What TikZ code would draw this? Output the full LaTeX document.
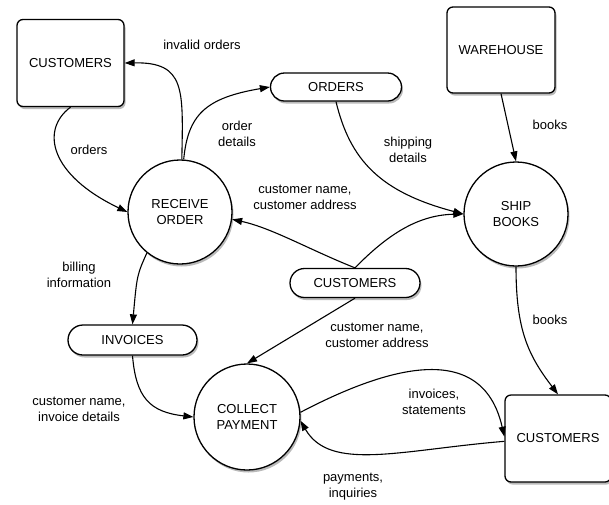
\documentclass[tikz,border=0pt]{standalone}
\usepackage{fontspec}
\setmainfont{Liberation Sans}
\usetikzlibrary{shapes.misc,shadows,arrows.meta}
\begin{document}
\begin{tikzpicture}[x=1pt,y=-1pt,
  every node/.style={font=\fontsize{13}{16}\selectfont, align=center},
  shd/.style={drop shadow={shadow xshift=1.5pt, shadow yshift=-2.5pt, fill=black!60, opacity=0.45}},
  entity/.style={draw, line width=1.3pt, rounded corners=6pt, fill=white, shd, minimum width=107pt, minimum height=87pt},
  proc/.style={draw, circle, line width=1.3pt, fill=white, shd, minimum size=104pt, inner sep=0pt},
  store/.style={draw, rounded rectangle, line width=1.3pt, fill=white, shd, minimum height=28pt, inner sep=0pt},
  flow/.style={line width=1.1pt, -{Triangle[length=10pt,width=7pt]}},
  lbl/.style={inner sep=1pt}
]
\useasboundingbox (0,0) rectangle (609,504);
\fill[white] (0,0) rectangle (609,504);

% nodes
\node[entity] (cust1) at (70.5,63) {CUSTOMERS};
\node[entity, minimum width=108pt, minimum height=86pt] (wh) at (501,50) {WAREHOUSE};
\node[entity, minimum width=106pt] (cust3) at (558,438.5) {CUSTOMERS};
\node[proc] (recv) at (180,212) {RECEIVE\\ORDER};
\node[proc] (ship) at (516,214) {SHIP\\BOOKS};
\node[proc, minimum size=106pt] (coll) at (247,417) {COLLECT\\PAYMENT};
\node[store, minimum width=131pt] (orders) at (336,87) {ORDERS};
\node[store, minimum width=130pt, minimum height=29pt] (cust2) at (355,283) {CUSTOMERS};
\node[store, minimum width=129pt, minimum height=30pt] (inv) at (132.5,340) {INVOICES};

% flows
\draw[flow] (cust1.south) .. controls (40,130) and (50,175) .. (recv.west);
\draw[flow] (recv.88) .. controls (183,90) and (186,62) .. (cust1.east);
\draw[flow] (recv.86) .. controls (188,115) and (205,98) .. (orders.west);
\draw[flow] (orders.south) .. controls (350,160) and (380,192) .. (ship.west);
\draw[flow] (wh.south) -- (ship.north);
\draw[flow] (cust2.north) .. controls (390,232) and (420,215) .. (ship.west);
\draw[flow] (cust2.north) .. controls (310,250) and (272,228) .. (recv.-8);
\draw[flow] (cust2.south) -- (coll.north);
\draw[flow] (recv.-129) .. controls (137,275) .. (inv.north);
\draw[flow] (inv.south) .. controls (136,398) and (150,412) .. (coll.west);
\draw[flow] (coll.5) .. controls (385,368) and (482,338) .. (cust3.178);
\draw[flow] (cust3.183) .. controls (400,450) and (330,472) .. (coll.-4);
\draw[flow] (ship.south) .. controls (516,330) and (528,355) .. (cust3.north);

% labels
\node[lbl] (l1) at (202,45) {invalid orders};
\node[lbl] (l2) at (89,150) {orders};
\node[lbl] (l3) at (237,134) {order\\details};
\node[lbl] (l4) at (305,197) {customer name,\\customer address};
\node[lbl] (l5) at (408,150) {shipping\\details};
\node[lbl] (l6) at (550,125) {books};
\node[lbl] (l7) at (79,275) {billing\\information};
\node[lbl] (l8) at (377,335) {customer name,\\customer address};
\node[lbl] (l9) at (550,320) {books};
\node[lbl] (l10) at (79,409) {customer name,\\invoice details};
\node[lbl] (l11) at (434,402) {invoices,\\statements};
\node[lbl] (l12) at (353,487) {payments,\\inquiries};
\end{tikzpicture}
\end{document}
